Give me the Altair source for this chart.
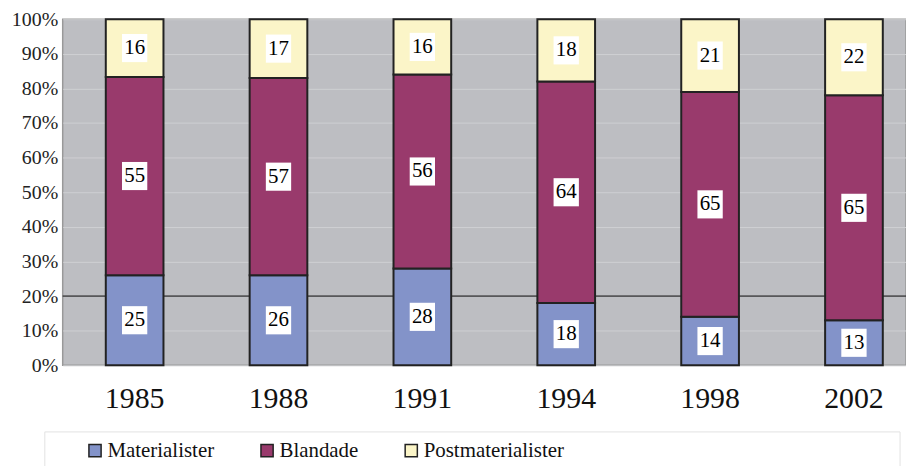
import altair as alt
import pandas as pd

years = ["1985", "1988", "1991", "1994", "1998", "2002"]
groups = ["Materialister", "Blandade", "Postmaterialister"]
materialister = [25, 26, 28, 18, 14, 13]
blandade = [55, 57, 56, 64, 65, 65]
postmaterialister = [16, 17, 16, 18, 21, 22]
colors = ["#8393c9", "#993a6c", "#fbf5c8"]
y_ticks = [0, 0.1, 0.2, 0.3, 0.4, 0.5, 0.6, 0.7, 0.8, 0.9, 1.0]

rows = []
for i, y in enumerate(years):
    for gi, (g, vals) in enumerate(zip(groups, [materialister, blandade, postmaterialister])):
        rows.append({"year": y, "group": g, "order": gi, "value": vals[i]})
df = pd.DataFrame(rows)

SERIF = "Liberation Serif, Times New Roman, serif"

base = alt.Chart(df).transform_stack(
    stack="value", groupby=["year"], as_=["y0", "y1"], offset="normalize",
    sort=[alt.SortField("order", order="ascending")]
).transform_calculate(mid="(datum.y0 + datum.y1) / 2")

xaxis = alt.Axis(labelFont=SERIF, labelFontSize=30, labelColor="#111",
                 labelPadding=18, ticks=False, domain=False, labelAngle=0, title=None)
yaxis = alt.Axis(format="%", values=y_ticks, grid=True, gridColor="#cfd0d3",
                 gridWidth=1, domain=False, ticks=False, labelPadding=5,
                 labelOverlap=False, labelFlush=False, title=None,
                 labelFont=SERIF, labelFontSize=20, labelColor="#222")
xscale = alt.Scale(range=[0, 868], paddingInner=0, paddingOuter=0)
yscale = alt.Scale(domain=[0, 1], nice=False)

def X():
    return alt.X("year:N", sort=years, title=None, scale=xscale, axis=xaxis)

bars = base.mark_bar(size=58, stroke="#222", strokeWidth=2).encode(
    x=X(),
    y=alt.Y("y0:Q", scale=yscale, title=None, axis=yaxis),
    y2="y1:Q",
    color=alt.Color("group:N", scale=alt.Scale(domain=groups, range=colors),
                    sort=groups, title=None,
                    legend=alt.Legend(orient="none", legendX=22, legendY=423,
                                      direction="horizontal", columns=3,
                                      symbolType="square", symbolSize=150,
                                      symbolStrokeColor="#222", symbolStrokeWidth=1.5,
                                      symbolOpacity=1,
                                      labelFont=SERIF, labelFontSize=21, labelColor="#111",
                                      labelOffset=2, columnPadding=42, padding=0)),
)

boxes = base.mark_point(shape="M-0.9,-1H0.9V1H-0.9Z", filled=True, fill="white",
                        opacity=1, size=800, strokeWidth=0).encode(
    x=X(), y=alt.Y("mid:Q", scale=yscale, title=None, axis=yaxis))

labels = base.mark_text(font=SERIF, fontSize=21, color="#000", baseline="middle").encode(
    x=X(), y=alt.Y("mid:Q", scale=yscale, title=None, axis=yaxis),
    text="value:Q")

rule = alt.Chart(pd.DataFrame({"v": [0.2]})).mark_rule(color="#000", strokeWidth=1).encode(
    y=alt.Y("v:Q", scale=yscale, title=None, axis=yaxis))

legend_box = alt.Chart(pd.DataFrame({"a": [0]})).mark_rect(
    fill="white", stroke="#e2e2e2", strokeWidth=1).encode(
    x=alt.value(-18), x2=alt.value(842), y=alt.value(415), y2=alt.value(470))

chart = alt.layer(legend_box, rule, bars, boxes, labels).properties(
    width=848, height=348,
    autosize=alt.AutoSizeParams(type="none"),
    padding={"left": 55, "top": 10, "right": 0, "bottom": 100},
    background="white",
).configure_view(fill="#bdbec2", stroke="#999", strokeWidth=1.5
).configure_axis(labelFont=SERIF).configure_legend(labelFont=SERIF)

chart.save("out.html", embed_options={"renderer": "svg", "actions": False})
